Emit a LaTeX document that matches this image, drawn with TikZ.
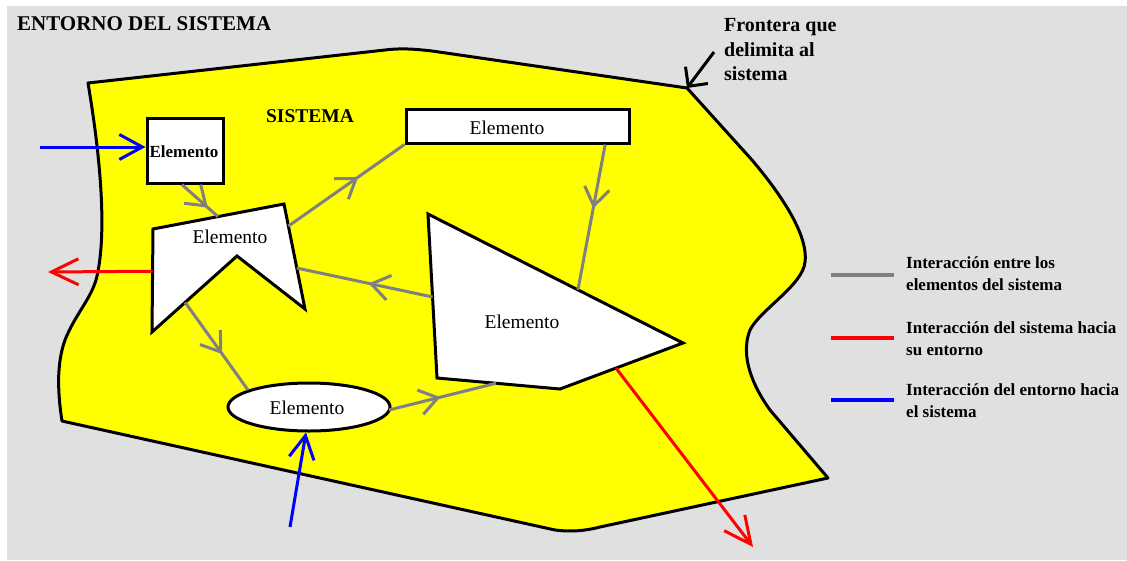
\documentclass[tikz,border=0pt]{standalone}
\usepackage{fontspec}
\setmainfont{Liberation Serif}
\usetikzlibrary{arrows.meta,decorations.markings,shapes.geometric,calc}
\definecolor{bgray}{HTML}{E0E0E0}
\definecolor{sysyellow}{HTML}{FFFF00}
\definecolor{lgray}{HTML}{808080}
\definecolor{ired}{HTML}{FF0000}
\definecolor{iblue}{HTML}{0000FF}
\begin{document}
\begin{tikzpicture}[x=1pt,y=-1pt,
  bordline/.style={draw=black,line width=3pt},
  elem/.style={bordline,fill=white,inner sep=0pt},
  eltext/.style={font=\fontsize{19.5}{22}\selectfont},
  gcon/.style={draw=lgray,line width=3pt,
    decoration={markings,mark=at position #1 with {\arrow{Straight Barb[length=18pt,width=25pt]}}},
    postaction=decorate},
  rcon/.style={draw=ired,line width=3pt,-{Straight Barb[length=27pt,width=26pt]}},
  bcon/.style={draw=iblue,line width=3pt,-{Straight Barb[length=23pt,width=25pt]}},
  legtext/.style={font=\fontsize{17}{22}\selectfont\bfseries,align=left,anchor=west,inner sep=0pt},
  legline/.style={line width=3.5pt}
]
\useasboundingbox (0,0) rectangle (1127,560);
\fill[white] (0,0) rectangle (1127,560);
\fill[bgray] (7,6) rectangle (1127,560);

% system boundary
\coordinate (corner) at (687,88);
\draw[bordline,fill=sysyellow,line join=round]
  (88,83) -- (385,50) .. controls (400,48) and (415,49) .. (432,51) -- (corner)
  -- (752,160) .. controls (790,205) and (808,240) .. (805,262)
  .. controls (803,285) and (760,310) .. (750,330)
  .. controls (740,355) and (752,385) .. (770,410) -- (828,478)
  -- (600,527) .. controls (585,531) and (570,532) .. (555,530)
  -- (62,421) .. controls (58,395) and (56,365) .. (65,340)
  .. controls (75,315) and (90,300) .. (96,280)
  .. controls (104,250) and (106,190) .. (88,83) -- cycle;

% titles
\node[anchor=west,inner sep=0pt,font=\fontsize{21}{24}\selectfont\bfseries] (title) at (17,24) {ENTORNO DEL SISTEMA};
\node[inner sep=0pt,font=\fontsize{19.5}{22}\selectfont\bfseries] (sistema) at (310,116) {SISTEMA};
\node[anchor=west,align=left,inner sep=0pt,font=\fontsize{20}{24.5}\selectfont\bfseries] (front) at (724,50) {Frontera que\\delimita al\\sistema};
\coordinate (frontstart) at (714,52);
\draw[line width=3pt,-{Straight Barb[length=14pt,width=28pt]}] (frontstart) -- (corner);

% elements
\node[elem,rectangle,minimum width=76pt,minimum height=65pt] (sq) at (185,150.5) {};
\node[inner sep=0pt,font=\fontsize{17}{20}\selectfont\bfseries] (sqtext) at (184,152) {Elemento};

\node[elem,rectangle,minimum width=223pt,minimum height=34pt] (lr) at (517.5,126) {};
\node[eltext,inner sep=0pt] (lrtext) at (507,128) {Elemento};

\node[elem,ellipse,minimum width=162pt,minimum height=48pt] (el) at (309,407) {};
\node[eltext,inner sep=0pt] (eltxt) at (307,408) {Elemento};

% star-like element
\coordinate (s1) at (153,229);
\coordinate (s2) at (284,204);
\coordinate (s3) at (305,309);
\coordinate (s4) at (237,256);
\coordinate (s5) at (152,332);
\draw[elem] (s1) -- (s2) -- (s3) -- (s4) -- (s5) -- cycle;
\node[eltext,inner sep=0pt] (startext) at (230,237) {Elemento};

% pentagon element
\coordinate (p1) at (428,214);
\coordinate (p2) at (683,343);
\coordinate (p3) at (560,389);
\coordinate (p4) at (437,378);
\draw[elem] (p1) -- (p2) -- (p3) -- (p4) -- cycle;
\node[eltext,inner sep=0pt] (pentext) at (522,322) {Elemento};

% connection points
\coordinate (sqout) at ($(sq.south west)!0.46!(sq.south east)$);
\coordinate (starin) at ($(s1)!0.496!(s2)$);
\coordinate (starout1) at ($(s2)!0.21!(s3)$);
\coordinate (lrin) at (lr.south west);
\coordinate (lrout) at ($(lr.south west)!0.888!(lr.south east)$);
\coordinate (penin1) at ($(p1)!0.588!(p2)$);
\coordinate (penout1) at ($(p1)!0.506!(p4)$);
\coordinate (starin2) at ($(s2)!0.61!(s3)$);
\coordinate (starout2) at ($(s4)!0.61!(s5)$);
\coordinate (elin) at (248,390);
\coordinate (elout) at (389,410);
\coordinate (penin2) at ($(p4)!0.48!(p3)$);
\coordinate (starout3) at ($(s1)!0.41!(s5)$);
\coordinate (penout2) at ($(p3)!0.455!(p2)$);
\coordinate (redend1) at (48,272);
\coordinate (redend2) at (753,547);
\coordinate (bluestart1) at (40,147);
\coordinate (bluestart2) at (290,527);
\coordinate (sqin) at ($(sq.west)+(0,-3.5)$);
\coordinate (elin2) at ($(el.south)+(-3,0)$);

% interactions between elements
\draw[gcon=0.72] (sqout) -- (starin);
\draw[gcon=0.6] (starout1) -- (lrin);
\draw[gcon=0.44] (lrout) -- (penin1);
\draw[gcon=0.47] (penout1) -- (starin2);
\draw[gcon=0.59] (starout2) -- (elin);
\draw[gcon=0.48] (elout) -- (penin2);

% system to environment
\draw[rcon] (starout3) -- (redend1);
\draw[rcon] (penout2) -- (redend2);

% environment to system
\draw[bcon] (bluestart1) -- (sqin);
\draw[bcon] (bluestart2) -- (elin2);

% legend
\coordinate (lg1a) at (831,275); \coordinate (lg1b) at (894,275);
\coordinate (lg2a) at (831,338); \coordinate (lg2b) at (894,338);
\coordinate (lg3a) at (831,400); \coordinate (lg3b) at (894,400);
\draw[legline,lgray] (lg1a) -- (lg1b);
\draw[legline,ired] (lg2a) -- (lg2b);
\draw[legline,iblue] (lg3a) -- (lg3b);
\node[legtext] (leg1) at (906,274) {Interacción entre los\\elementos del sistema};
\node[legtext] (leg2) at (906,339) {Interacción del sistema hacia\\su entorno};
\node[legtext] (leg3) at (906,401) {Interacción del entorno hacia\\el sistema};
\end{tikzpicture}
\end{document}
